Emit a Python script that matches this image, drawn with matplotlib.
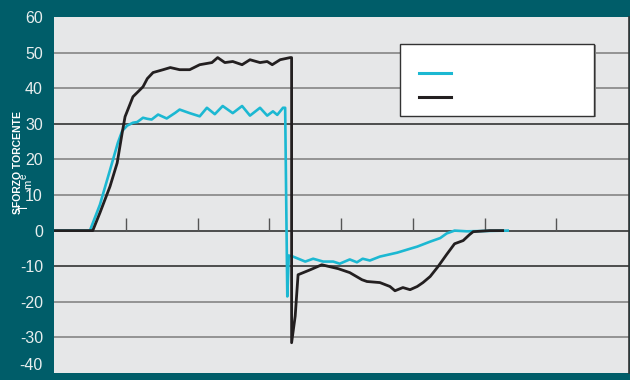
import matplotlib
matplotlib.use("Agg")
import matplotlib.pyplot as plt
from matplotlib.patches import Rectangle

plt.rcParams['font.family'] = ['Liberation Sans', 'DejaVu Sans']

# ---- data ----
yticks = [60, 50, 40, 30, 20, 10, 0, -10, -20, -30, -40]
xmarks = [1, 2, 3, 4, 5, 6, 7]

cyan_x = [0, 0.50, 0.64, 0.78, 0.89, 0.95, 1.02, 1.10, 1.16, 1.24, 1.30, 1.36, 1.45, 1.57,
          1.69, 1.75, 1.89, 2.03, 2.13, 2.24, 2.35, 2.49, 2.62, 2.73, 2.87, 2.97, 3.05, 3.11,
          3.19, 3.22, 3.25, 3.27, 3.33, 3.50, 3.61, 3.75, 3.89, 3.98, 4.12, 4.22, 4.30, 4.40,
          4.54, 4.78, 4.96, 5.06, 5.24, 5.38, 5.47, 5.58, 5.75, 6.32]
cyan_y = [0, 0, 7.3, 17, 24.7, 28, 29.5, 30.3, 30.5, 31.7, 31.4, 31.2, 32.6, 31.5,
          33.1, 34.0, 33.0, 32.1, 34.5, 32.7, 35.0, 33.0, 35.0, 32.3, 34.5, 32.3, 33.5, 32.5,
          34.5, 34.5, -18.5, -7.0, -7.3, -8.7, -7.9, -8.7, -8.7, -9.3, -8.1, -8.9, -7.9, -8.4,
          -7.3, -6.2, -5.1, -4.5, -3.1, -2.1, -0.8, 0, -0.2, 0]

black_x = [0, 0.54, 0.64, 0.78, 0.88, 0.95, 0.99, 1.10, 1.24, 1.30, 1.38, 1.52, 1.62, 1.75,
           1.89, 2.03, 2.20, 2.28, 2.38, 2.49, 2.62, 2.73, 2.87, 2.97, 3.04, 3.15, 3.29, 3.31,
           3.31, 3.36, 3.40, 3.57, 3.73, 3.96, 4.12, 4.29, 4.36, 4.54, 4.68, 4.75, 4.86, 4.96,
           5.06, 5.14, 5.24, 5.35, 5.47, 5.58, 5.70, 5.79, 5.84, 6.07, 6.25]
black_y = [0, 0, 5, 12.4, 19, 27.5, 32, 37.6, 40.4, 42.7, 44.4, 45.2, 45.8, 45.2,
           45.2, 46.6, 47.2, 48.6, 47.2, 47.5, 46.6, 48, 47.2, 47.5, 46.6, 48, 48.6, 48.6,
           -31.5, -24, -12.4, -11, -9.6, -10.7, -11.8, -13.8, -14.3, -14.6, -15.7, -16.9, -16, -16.6,
           -15.7, -14.6, -12.9, -10.1, -6.7, -3.7, -2.8, -1.1, -0.3, 0, 0]

TEAL = "#005d69"
CYAN = "#1cb8d2"
BLACK = "#231f20"

fig = plt.figure(figsize=(6.3, 3.8), dpi=100, facecolor=TEAL)
ax = fig.add_axes([54/630, 7/380, 575/630, 356/380])
ax.set_facecolor("#e6e7e8")
ax.set_xlim(0, 8.01)
ax.set_ylim(-40, 60)

dark = {30, 0, -10}
for v in yticks:
    if v in (60, -40):
        continue
    ax.axhline(v, color="#333333" if v in dark else "#858585", lw=1.2, zorder=1)

ax.vlines(xmarks, 0, 3.5, color="#555555", lw=1.0, zorder=1)

ax.plot(cyan_x, cyan_y, color=CYAN, lw=1.9, zorder=3, solid_joinstyle="round")
ax.plot(black_x, black_y, color=BLACK, lw=2.0, zorder=4, solid_joinstyle="round")

# legend box (empty labels)
ax.add_patch(Rectangle((0.605, 0.72), 0.337, 0.202, transform=ax.transAxes,
                       facecolor="#8c8c8c", edgecolor="none", zorder=5))
ax.add_patch(Rectangle((0.602, 0.723), 0.337, 0.202, transform=ax.transAxes,
                       facecolor="white", edgecolor="#333333", lw=1.0, zorder=6))
ax.plot([5.08, 5.53], [44.4, 44.4], color=CYAN, lw=2.2, zorder=7)
ax.plot([5.08, 5.53], [37.4, 37.4], color=BLACK, lw=2.2, zorder=7)

ax.set_xticks([])
ax.set_yticks(yticks)
ax.set_yticklabels([str(v) for v in yticks], color="#e8eeee", fontsize=11.5)
ax.tick_params(axis="y", length=0, pad=8)
for lbl in ax.get_yticklabels():
    if lbl.get_text() == "-40":
        lbl.set_va("bottom")
for s in ("top", "bottom", "left"):
    ax.spines[s].set_visible(False)
ax.spines["right"].set_color("#333333")
ax.spines["right"].set_linewidth(1.2)

fig.text(18/630, 1 - 163/380, "SFORZO TORCENTE", rotation=90, color="white",
         fontsize=7.5, fontweight="bold", ha="center", va="center")
fig.text(25/630, 1 - 207/380, "T", rotation=90, color="white", fontsize=8.5,
         ha="center", va="center")
fig.text(28/630, 1 - 184/380, "m", rotation=90, color="white", fontsize=8,
         ha="center", va="center")
fig.text(24/630, 1 - 176/380, "e", rotation=90, color="white", fontsize=7,
         ha="center", va="center")

fig.savefig("out.png", dpi=100, facecolor=TEAL)
